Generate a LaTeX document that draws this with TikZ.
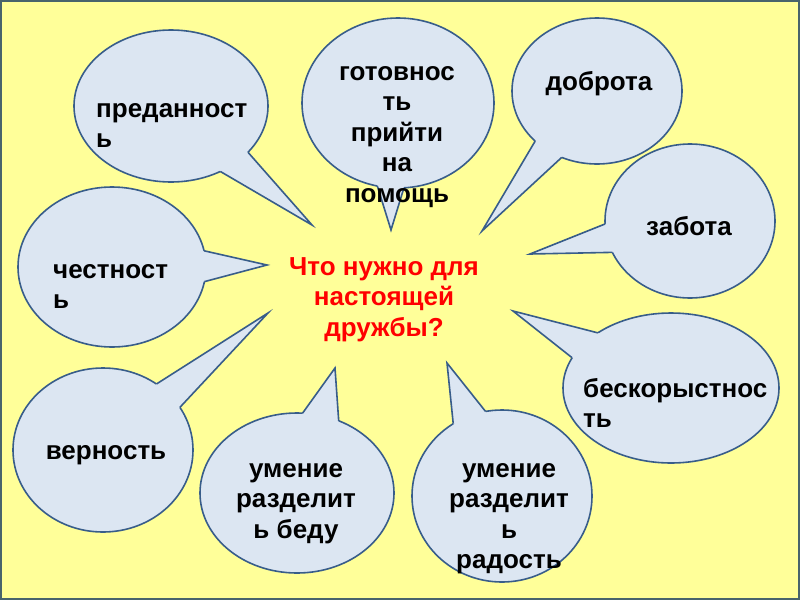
\documentclass[tikz,border=0pt]{standalone}
\usepackage{fontspec}
\setmainfont{Liberation Sans}
\usetikzlibrary{shapes.geometric}

\definecolor{paper}{RGB}{255,255,153}
\definecolor{frame}{RGB}{72,100,108}
\definecolor{cloud}{RGB}{220,230,242}
\definecolor{rim}{RGB}{56,93,138}

\begin{document}
\begin{tikzpicture}[x=1pt,y=-1pt,
  bubble/.style={ellipse,draw=rim,fill=cloud,line width=1.6pt,inner sep=0pt,outer sep=0pt},
  tailfill/.style={fill=cloud},
  tailline/.style={rim,line width=1.6pt},
  word/.style={font=\bfseries\fontsize{26}{30.5}\selectfont,inner sep=0pt,align=center}]
\useasboundingbox (0,0) rectangle (800,600);
\fill[paper] (0,0) rectangle (800,600);
\draw[frame,line width=2pt] (1,1) rectangle (799,599);

\node[bubble,minimum width=194,minimum height=152] (devot) at (171,106) {};
\coordinate (devottip) at (312,225);
\fill[tailfill] (devot.-31) -- (devottip) -- (devot.-53) -- (devot.center) -- cycle;
\draw[tailline] (devot.-31) -- (devottip) -- (devot.-53);
\node[word,align=left,anchor=north west] (devottext) at (96,95.65) {\strut преданност\\ь};

\node[bubble,minimum width=192,minimum height=170] (help) at (398,103) {};
\coordinate (helptip) at (391,230);
\fill[tailfill] (help.-104) -- (helptip) -- (help.-86) -- (help.center) -- cycle;
\draw[tailline] (help.-104) -- (helptip) -- (help.-86);
\node[word,anchor=north] (helptext) at (397,58.65) {\strut готовнос\\ть\\прийти\\на\\помощь};

\node[bubble,minimum width=170,minimum height=146] (kind) at (597,91) {};
\coordinate (kindtip) at (482,231);
\fill[tailfill] (kind.-141) -- (kindtip) -- (kind.-118) -- (kind.center) -- cycle;
\draw[tailline] (kind.-141) -- (kindtip) -- (kind.-118);
\node[word,anchor=north] (kindtext) at (599,68.65) {\strut доброта};

\node[bubble,minimum width=170,minimum height=154] (care) at (690,221) {};
\coordinate (caretip) at (530,254);
\fill[tailfill] (care.-178) -- (caretip) -- (care.-158) -- (care.center) -- cycle;
\draw[tailline] (care.-178) -- (caretip) -- (care.-158);
\node[word,anchor=north] (caretext) at (689,213.65) {\strut забота};

\node[bubble,minimum width=216,minimum height=150] (unself) at (671,388) {};
\coordinate (unselftip) at (513,311);
\fill[tailfill] (unself.143) -- (unselftip) -- (unself.163) -- (unself.center) -- cycle;
\draw[tailline] (unself.143) -- (unselftip) -- (unself.163);
\node[word,align=left,anchor=north west] (unselftext) at (583,375.65) {\strut бескорыстнос\\ть};

\node[bubble,minimum width=180,minimum height=172] (joy) at (502,496) {};
\coordinate (joytip) at (447,363);
\fill[tailfill] (joy.124) -- (joytip) -- (joy.101) -- (joy.center) -- cycle;
\draw[tailline] (joy.124) -- (joytip) -- (joy.101);
\node[word,anchor=north] (joytext) at (509,455.65) {\strut умение\\разделит\\ь\\радость};

\node[bubble,minimum width=194,minimum height=160] (grief) at (297,493) {};
\coordinate (grieftip) at (335,368);
\fill[tailfill] (grief.86) -- (grieftip) -- (grief.60) -- (grief.center) -- cycle;
\draw[tailline] (grief.86) -- (grieftip) -- (grief.60);
\node[word,anchor=north] (grieftext) at (296,455.65) {\strut умение\\разделит\\ь беду};

\node[bubble,minimum width=180,minimum height=164] (faith) at (103,450) {};
\coordinate (faithtip) at (268,313);
\fill[tailfill] (faith.51) -- (faithtip) -- (faith.29) -- (faith.center) -- cycle;
\draw[tailline] (faith.51) -- (faithtip) -- (faith.29);
\node[word,anchor=north] (faithtext) at (106,437.65) {\strut верность};

\node[bubble,minimum width=188,minimum height=160] (honest) at (112,267) {};
\coordinate (honesttip) at (267,265);
\fill[tailfill] (honest.10) -- (honesttip) -- (honest.-9) -- (honest.center) -- cycle;
\draw[tailline] (honest.10) -- (honesttip) -- (honest.-9);
\node[word,align=left,anchor=north west] (honesttext) at (53,256.65) {\strut честност\\ь};

\node[word,red,anchor=north] (question) at (384,253.65) {\strut Что нужно для\\настоящей\\дружбы?};
\end{tikzpicture}
\end{document}
